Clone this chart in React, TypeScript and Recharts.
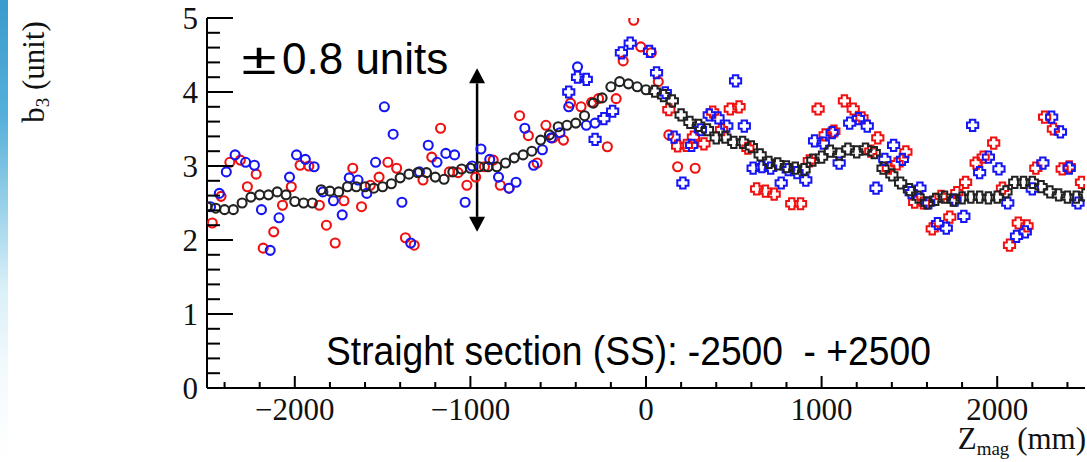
import React from 'react';
import { ScatterChart, Scatter, XAxis, YAxis, ReferenceLine } from 'recharts';

// z (mm), b3 (unit)
const redCircles: [number, number][] = [
  [-2470, 2.23], [-2420, 2.59], [-2370, 3.05], [-2310, 3.08], [-2270, 2.72], [-2220, 2.89],
  [-2180, 1.89], [-2120, 2.11], [-2070, 2.47], [-2020, 2.72], [-1970, 3.01], [-1920, 3.0],
  [-1860, 2.47], [-1820, 2.2], [-1770, 1.96], [-1720, 2.53], [-1670, 2.97], [-1620, 2.45],
  [-1570, 2.74], [-1520, 2.85], [-1470, 3.05], [-1420, 2.97], [-1370, 2.03], [-1320, 1.93],
  [-1270, 2.81], [-1220, 3.12], [-1170, 3.51], [-1120, 2.92], [-1070, 2.91], [-1020, 2.74],
  [-970, 2.85], [-920, 2.99], [-870, 3.08], [-830, 2.74], [-780, 2.7], [-720, 3.68],
  [-670, 3.41], [-620, 3.04], [-570, 3.55], [-530, 3.38], [-470, 3.35], [-430, 3.85],
  [-370, 3.8], [-310, 3.86], [-270, 3.91], [-220, 3.26], [-170, 3.91], [-130, 4.42],
  [-70, 4.97], [-30, 4.61], [30, 4.53], [70, 4.14], [130, 3.42], [180, 2.99], [280, 2.97],
];

const blueCircles: [number, number][] = [
  [-2480, 2.45], [-2430, 2.63], [-2390, 2.92], [-2340, 3.15], [-2280, 3.05], [-2230, 3.01],
  [-2190, 2.41], [-2140, 1.86], [-2090, 2.3], [-2030, 2.85], [-1990, 3.15], [-1940, 3.09],
  [-1890, 2.99], [-1840, 2.65], [-1780, 2.53], [-1730, 2.34], [-1690, 2.84], [-1640, 2.81],
  [-1590, 2.63], [-1540, 3.05], [-1490, 3.8], [-1440, 3.43], [-1390, 2.51], [-1340, 1.96],
  [-1290, 2.92], [-1240, 3.28], [-1190, 3.05], [-1140, 3.17], [-1090, 3.15], [-1030, 2.51],
  [-990, 3.0], [-940, 3.23], [-890, 3.09], [-840, 2.85], [-780, 2.7], [-740, 2.78],
  [-690, 3.51], [-640, 3.01], [-590, 3.22], [-540, 3.38], [-490, 3.45], [-440, 3.8],
  [-390, 4.34], [-340, 3.55], [-290, 3.58],
];

const blueCrosses: [number, number][] = [
  [-440, 4.0], [-390, 4.2], [-340, 4.17], [-290, 3.36], [-240, 3.64], [-190, 3.74],
  [-140, 4.53], [-90, 4.66], [20, 4.55], [60, 4.26], [110, 3.99], [160, 3.39],
  [210, 2.77], [260, 3.28], [310, 3.49], [360, 3.69], [410, 3.65], [460, 3.54],
  [510, 4.15], [560, 3.54], [610, 2.97], [660, 2.99], [710, 2.97], [770, 2.77],
  [810, 2.95], [860, 2.91], [910, 2.81], [960, 3.34], [1010, 3.31], [1060, 3.45],
  [1100, 3.04], [1160, 3.58], [1210, 3.64], [1260, 3.54], [1310, 2.7], [1360, 3.09],
  [1410, 3.28], [1460, 3.09], [1510, 2.64], [1560, 2.7], [1610, 2.5], [1660, 2.22],
  [1710, 2.16], [1760, 2.54], [1810, 2.32], [1860, 3.55], [1900, 2.91], [1950, 3.12],
  [2010, 2.96], [2060, 2.5], [2110, 2.05], [2160, 2.11], [2200, 2.69], [2260, 3.04],
  [2310, 3.66], [2360, 3.46], [2410, 2.97], [2460, 2.5],
];

const redCrosses: [number, number][] = [
  [130, 3.76], [180, 3.27], [230, 3.28], [270, 3.39], [330, 3.3], [380, 3.73],
  [430, 3.49], [480, 3.77], [530, 3.8], [580, 3.24], [630, 2.69], [680, 2.66],
  [730, 2.62], [830, 2.49], [880, 2.49], [930, 3.07], [980, 3.77], [1020, 3.42],
  [1070, 3.47], [1130, 3.88], [1180, 3.77], [1230, 3.65], [1280, 3.2], [1320, 3.38],
  [1380, 2.97], [1430, 3.03], [1480, 3.19], [1530, 2.51], [1580, 2.5], [1630, 2.15],
  [1680, 2.59], [1730, 2.31], [1770, 2.64], [1820, 2.78], [1880, 3.04], [1920, 3.12],
  [1980, 3.31], [2030, 2.7], [2070, 1.93], [2120, 2.23], [2170, 2.19], [2220, 2.97],
  [2270, 3.66], [2320, 3.5], [2370, 2.96], [2410, 2.99], [2480, 2.78],
];

const blackCircles: [number, number][] = [
  [-2500, 2.45], [-2450, 2.43], [-2400, 2.41], [-2350, 2.41], [-2300, 2.5], [-2250, 2.58],
  [-2200, 2.61], [-2150, 2.61], [-2100, 2.65], [-2050, 2.61], [-2000, 2.52], [-1950, 2.5],
  [-1900, 2.5], [-1850, 2.68], [-1800, 2.66], [-1750, 2.65], [-1700, 2.72], [-1650, 2.72],
  [-1600, 2.72], [-1550, 2.7], [-1500, 2.72], [-1450, 2.76], [-1400, 2.84], [-1350, 2.89],
  [-1300, 2.91], [-1250, 2.91], [-1200, 2.85], [-1150, 2.82], [-1100, 2.92], [-1050, 2.96],
  [-1000, 2.97], [-950, 2.99], [-900, 2.99], [-850, 2.99], [-800, 3.04], [-750, 3.11],
  [-700, 3.15], [-650, 3.2], [-600, 3.35], [-550, 3.42], [-500, 3.53], [-450, 3.55],
  [-400, 3.58], [-350, 3.68], [-300, 3.85], [-250, 3.92], [-200, 4.07], [-150, 4.14],
  [-100, 4.11], [-50, 4.07], [0, 4.03],
];

const blackCrosses: [number, number][] = [
  [50, 4.01], [100, 3.95], [150, 3.88], [200, 3.69], [250, 3.59], [300, 3.55],
  [350, 3.49], [400, 3.38], [450, 3.39], [500, 3.32], [550, 3.32], [600, 3.26],
  [650, 3.15], [700, 3.05], [750, 3.03], [800, 2.99], [850, 2.97], [900, 2.95],
  [950, 3.08], [1000, 3.12], [1050, 3.2], [1100, 3.16], [1150, 3.23], [1200, 3.19],
  [1250, 3.23], [1300, 3.18], [1350, 2.97], [1400, 2.88], [1450, 2.77], [1500, 2.68],
  [1550, 2.58], [1600, 2.5], [1650, 2.55], [1700, 2.58], [1750, 2.54], [1800, 2.57],
  [1850, 2.58], [1900, 2.58], [1950, 2.57], [2000, 2.58], [2050, 2.65], [2100, 2.78],
  [2150, 2.78], [2200, 2.78], [2250, 2.72], [2300, 2.65], [2350, 2.61], [2400, 2.58],
  [2450, 2.58], [2500, 2.61],
];

// axis ticks (major + minor)
const xTicks = Array.from({ length: 25 }, (_, i) => -2400 + i * 200);
const yTicks = Array.from({ length: 26 }, (_, i) => Math.round(i * 2) / 10);

// the double arrow annotation
const arrowZ = -962;
const arrowTop = 4.32;
const arrowBottom = 2.11;

const RED = '#f01010';
const BLUE = '#1515f5';
const BLACK = '#222';
const SERIF = '"Liberation Serif", "Times New Roman", serif';
const SANS = '"Liberation Sans", Arial, sans-serif';
const TICK_FONT = 31;

const toPoints = (pairs: [number, number][]) => pairs.map(([z, b3]) => ({ z, b3 }));

const isMajorX = (v: number) => v % 1000 === 0;
const isMajorY = (v: number) => Math.abs(v - Math.round(v)) < 1e-6;
const fmtX = (v: number) => (v < 0 ? '\u2212' + Math.abs(v) : String(v));

const circleShape = (color: string) => (props: any) => (
  <circle cx={props.cx} cy={props.cy} r={4.5} fill="none" stroke={color} strokeWidth={2.1} />
);

const crossShape = (color: string) => (props: any) => {
  const { cx, cy } = props;
  const a = 2.7;
  const l = 5.6;
  const pts = [
    [-a, -l], [a, -l], [a, -a], [l, -a], [l, a], [a, a],
    [a, l], [-a, l], [-a, a], [-l, a], [-l, -a], [-a, -a],
  ].map(([dx, dy]) => `${cx + dx},${cy + dy}`).join(' ');
  return <polygon points={pts} fill="none" stroke={color} strokeWidth={2} />;
};

// bottom axis: y passed in is axis line + tickSize + tickMargin (8 + 3)
const BottomTick = (props: any) => {
  const { x, y, payload } = props;
  const major = isMajorX(payload.value);
  const axisY = y - 11;
  return (
    <g>
      <line x1={x} x2={x} y1={axisY} y2={axisY - (major ? 12 : 6)} stroke="#000" strokeWidth={2} />
      {major && (
        <text x={x} y={y} dy="0.68em" textAnchor="middle" fontFamily={SERIF} fontSize={TICK_FONT} fill="#111">
          {fmtX(payload.value)}
        </text>
      )}
    </g>
  );
};

const TopTick = (props: any) => {
  const { x, y, payload } = props;
  const major = isMajorX(payload.value);
  return <line x1={x} x2={x} y1={y} y2={y + (major ? 12 : 6)} stroke="#000" strokeWidth={2} />;
};

// left axis: x passed in is axis line - tickSize - tickMargin (6 + 3)
const LeftTick = (props: any) => {
  const { x, y, payload } = props;
  const major = isMajorY(payload.value);
  const axisX = x + 9;
  return (
    <g>
      <line x1={axisX} x2={axisX + (major ? 26 : 13)} y1={y} y2={y} stroke="#000" strokeWidth={2} />
      {major && (
        <text x={x} y={y} dy="0.35em" textAnchor="end" fontFamily={SERIF} fontSize={TICK_FONT} fill="#111">
          {Math.round(payload.value)}
        </text>
      )}
    </g>
  );
};

const RightTick = (props: any) => {
  const { x, y, payload } = props;
  const major = isMajorY(payload.value);
  return <line x1={x} x2={x - (major ? 26 : 13)} y1={y} y2={y} stroke="#000" strokeWidth={2} />;
};

const DoubleArrow = (props: any) => {
  const { x1, y1, x2, y2 } = props;
  const top = Math.min(y1, y2);
  const bottom = Math.max(y1, y2);
  const h = 15;
  const w = 8;
  return (
    <g>
      <line x1={x1} x2={x2} y1={top + h} y2={bottom - h} stroke="#000" strokeWidth={2.5} />
      <polygon points={`${x1},${top} ${x1 - w},${top + h} ${x1 + w},${top + h}`} fill="#000" />
      <polygon points={`${x1},${bottom} ${x1 - w},${bottom - h} ${x1 + w},${bottom - h}`} fill="#000" />
    </g>
  );
};

const axisLine = { stroke: '#000', strokeWidth: 2 };

const App: React.FC = () => {
  return (
    <div style={{ position: 'absolute', left: 0, top: 0, width: 1087, height: 462, background: '#fff', overflow: 'hidden' }}>
      <div
        style={{
          position: 'absolute', left: 0, top: 0, width: 8, height: 462,
          background: 'linear-gradient(to bottom, #3a9bcd 0%, #55afd9 25%, #9ad2ea 45%, #d9eff8 62%, #f3fafd 80%, #ffffff 100%)',
        }}
      />
      <ScatterChart width={1087} height={462} margin={{ top: 18, right: 2, bottom: 0, left: 0 }}>
        <XAxis
          xAxisId={0}
          type="number"
          dataKey="z"
          domain={[-2500, 2500]}
          allowDataOverflow
          ticks={xTicks}
          interval={0}
          height={74}
          tickSize={8}
          tickMargin={3}
          tickLine={false}
          axisLine={axisLine}
          tick={<BottomTick />}
        />
        <XAxis
          xAxisId="top"
          orientation="top"
          type="number"
          dataKey="z"
          domain={[-2500, 2500]}
          allowDataOverflow
          ticks={xTicks}
          interval={0}
          height={0}
          tickSize={0}
          tickMargin={0}
          tickLine={false}
          axisLine={axisLine}
          tick={<TopTick />}
        />
        <YAxis
          yAxisId={0}
          type="number"
          dataKey="b3"
          domain={[0, 5]}
          allowDataOverflow
          ticks={yTicks}
          interval={0}
          width={207}
          tickSize={6}
          tickMargin={3}
          tickLine={false}
          axisLine={axisLine}
          tick={<LeftTick />}
        />
        <YAxis
          yAxisId="right"
          orientation="right"
          type="number"
          dataKey="b3"
          domain={[0, 5]}
          allowDataOverflow
          ticks={yTicks}
          interval={0}
          width={0}
          tickSize={0}
          tickMargin={0}
          tickLine={false}
          axisLine={axisLine}
          tick={<RightTick />}
        />
        <Scatter data={toPoints(redCircles)} shape={circleShape(RED)} isAnimationActive={false} />
        <Scatter data={toPoints(redCrosses)} shape={crossShape(RED)} isAnimationActive={false} />
        <Scatter data={toPoints(blueCircles)} shape={circleShape(BLUE)} isAnimationActive={false} />
        <Scatter data={toPoints(blueCrosses)} shape={crossShape(BLUE)} isAnimationActive={false} />
        <Scatter data={toPoints(blackCircles)} shape={circleShape(BLACK)} isAnimationActive={false} />
        <Scatter data={toPoints(blackCrosses)} shape={crossShape(BLACK)} isAnimationActive={false} />
        <ReferenceLine
          segment={[{ x: arrowZ, y: arrowTop }, { x: arrowZ, y: arrowBottom }]}
          shape={<DoubleArrow />}
        />
      </ScatterChart>

      {/* y axis title */}
      <div
        style={{
          position: 'absolute', left: 35, top: 72, transform: 'translate(-50%, -50%) rotate(-90deg)',
          whiteSpace: 'nowrap', fontFamily: SERIF, fontSize: 31, lineHeight: 1, color: '#111',
        }}
      >
        b<sub style={{ fontSize: 19, verticalAlign: '-0.25em' }}>3</sub> (unit)
      </div>

      {/* x axis title */}
      <div
        style={{
          position: 'absolute', right: 1, top: 423, whiteSpace: 'nowrap',
          fontFamily: SERIF, fontSize: 31, lineHeight: 1, color: '#111',
        }}
      >
        Z<sub style={{ fontSize: 19, verticalAlign: '-0.3em' }}>mag</sub> (mm)
      </div>

      {/* annotations */}
      <div
        style={{
          position: 'absolute', left: 236, top: 37, whiteSpace: 'nowrap',
          fontFamily: SANS, fontSize: 44, lineHeight: 1, color: '#000', display: 'flex',
        }}
      >
        <span style={{ display: 'inline-block', width: 46, textAlign: 'center', transform: 'scaleX(1.45)' }}>±</span>
        <span>0.8 units</span>
      </div>
      <div
        style={{
          position: 'absolute', left: 326, top: 331, whiteSpace: 'pre',
          fontFamily: SANS, fontSize: 40, lineHeight: 1, color: '#000',
          transform: 'scaleX(0.93)', transformOrigin: 'left top',
        }}
      >
        Straight section (SS): -2500  - +2500
      </div>
    </div>
  );
};

export default App;
